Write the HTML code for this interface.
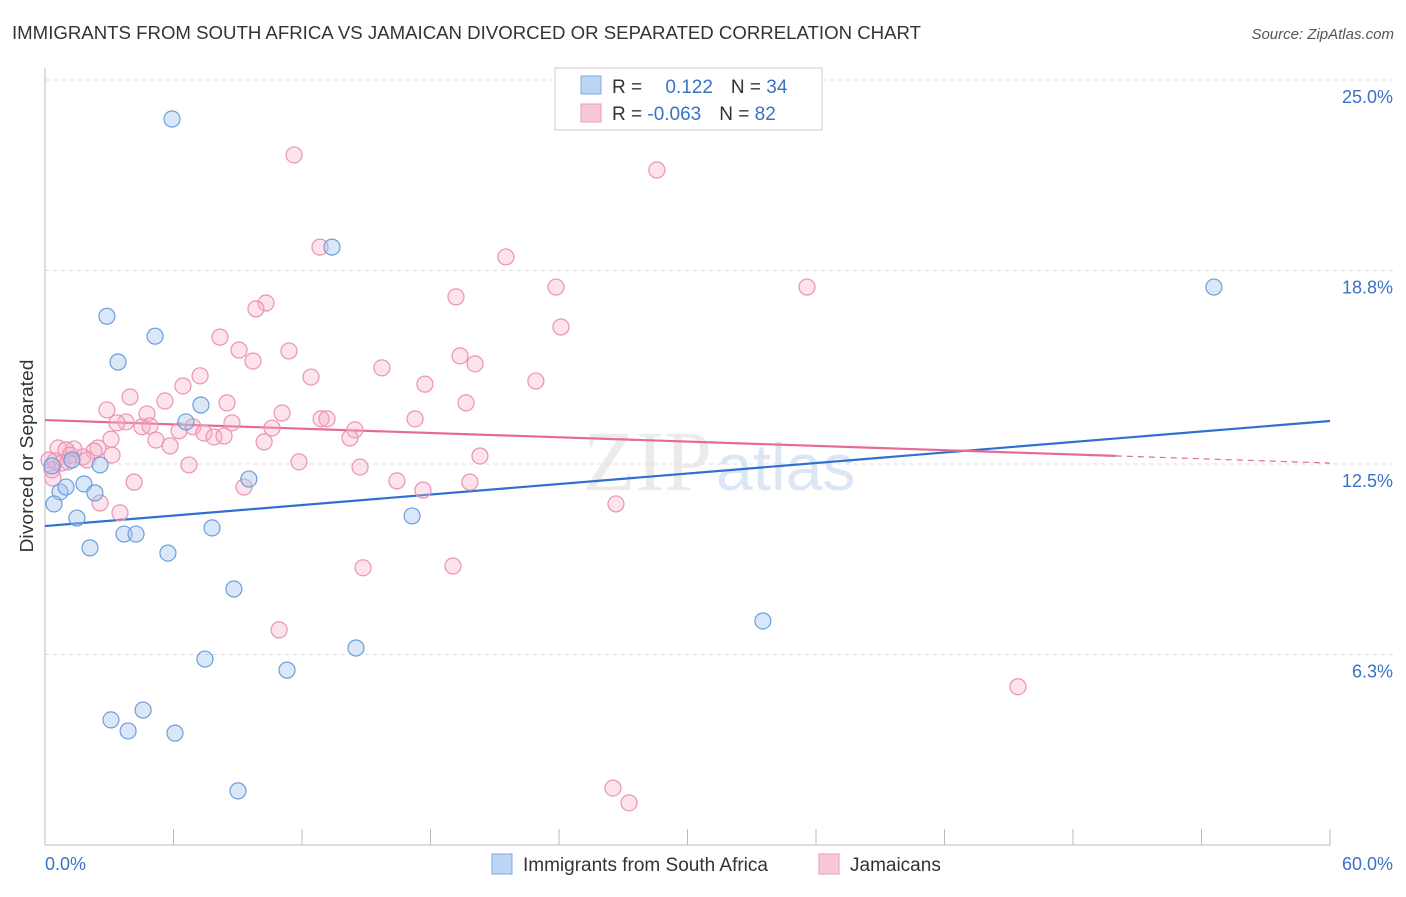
<!DOCTYPE html>
<html><head><meta charset="utf-8"><style>
body{margin:0;background:#fff;font-family:"Liberation Sans",sans-serif;}
</style></head><body>
<svg id="chart" width="1406" height="892" xmlns="http://www.w3.org/2000/svg" font-family="Liberation Sans, sans-serif">
<text x="12" y="39" font-size="18" fill="#333" textLength="909" lengthAdjust="spacingAndGlyphs">IMMIGRANTS FROM SOUTH AFRICA VS JAMAICAN DIVORCED OR SEPARATED CORRELATION CHART</text>
<text x="1394" y="39" font-size="15" fill="#555" font-style="italic" text-anchor="end">Source: ZipAtlas.com</text>
<g><text x="712" y="490" font-size="86" text-anchor="end" fill="#ebebeb" font-family="Liberation Serif, serif">ZIP</text><text x="716" y="490" font-size="66" fill="#dbe7f5">atlas</text></g>
<text transform="translate(33,456) rotate(-90)" font-size="18" fill="#333" text-anchor="middle" textLength="193" lengthAdjust="spacingAndGlyphs">Divorced or Separated</text>
<g id="grid"></g><g id="axes"></g><g id="lines"></g><g id="pts"></g>
<g>
<rect x="555" y="68" width="267" height="62" fill="#fff" stroke="#ccc"/>
<rect x="581" y="76" width="20" height="18" fill="#bdd5f5" stroke="#7fa9de"/>
<rect x="581" y="104" width="20" height="18" fill="#f9c8d8" stroke="#eb9ab6"/>
<text x="612" y="93" font-size="19" fill="#333">R = <tspan fill="#3a72c8" dx="18">0.122</tspan><tspan dx="18" fill="#333">N = </tspan><tspan fill="#3a72c8">34</tspan></text>
<text x="612" y="120" font-size="19" fill="#333">R = <tspan fill="#3a72c8">-0.063</tspan><tspan dx="18" fill="#333">N = </tspan><tspan fill="#3a72c8">82</tspan></text>
</g>
<g>
<rect x="492" y="854" width="20" height="20" fill="#bdd5f5" stroke="#7fa9de"/>
<text x="523" y="871" font-size="19" fill="#333">Immigrants from South Africa</text>
<rect x="819" y="854" width="20" height="20" fill="#f9c8d8" stroke="#eb9ab6"/>
<text x="850" y="871" font-size="19" fill="#333">Jamaicans</text>
</g>
</svg>
<script>
const blueX=[5.93,13.40,54.58,2.89,5.14,3.41,7.28,6.58,0.33,1.26,2.57,9.52,0.70,0.98,1.82,2.33,0.42,1.49,7.80,17.14,3.69,4.25,2.10,5.74,8.82,33.52,14.52,7.47,11.30,4.58,3.08,3.88,6.07,9.01];
const blueY=[23.73,19.56,18.26,17.31,16.66,15.82,14.42,13.87,12.44,12.63,12.47,12.01,11.59,11.75,11.85,11.56,11.20,10.74,10.42,10.81,10.22,10.22,9.77,9.60,8.43,7.39,6.51,6.15,5.79,4.49,4.17,3.81,3.74,1.86];
const pinkX=[11.63,28.57,12.84,21.52,23.86,35.58,19.19,10.32,9.85,24.09,8.17,11.39,9.06,9.71,19.38,20.08,15.73,7.24,12.42,22.92,6.44,17.74,3.97,5.60,19.66,8.50,2.89,4.76,11.07,3.78,3.36,17.28,12.89,13.17,8.73,4.53,4.90,6.91,6.26,10.60,14.47,7.42,7.89,8.36,3.08,5.18,14.24,5.84,10.23,2.47,1.35,0.61,0.98,2.29,1.77,0.19,0.47,1.96,0.79,6.72,11.86,20.31,14.71,0.37,4.16,16.43,19.84,9.29,17.65,2.57,26.66,3.50,14.85,19.05,10.93,45.43,26.52,27.27,0.33,1.17,1.07,3.13];
const pinkY=[22.56,22.07,19.56,19.24,18.26,18.26,17.94,17.74,17.55,16.96,16.63,16.18,16.21,15.85,16.02,15.76,15.63,15.37,15.33,15.20,15.04,15.10,14.68,14.55,14.49,14.49,14.26,14.13,14.16,13.87,13.84,13.97,13.97,13.97,13.84,13.71,13.74,13.71,13.58,13.67,13.61,13.51,13.38,13.41,13.31,13.28,13.35,13.09,13.22,13.02,12.99,13.02,12.96,12.92,12.73,12.63,12.60,12.63,12.53,12.47,12.57,12.76,12.40,12.04,11.91,11.95,11.91,11.75,11.65,11.23,11.20,10.91,9.12,9.18,7.10,5.25,1.95,1.47,12.31,12.79,12.57,12.79];
const yTicks=[25.0,18.8,12.5,6.3];
const yTickLabels=["25.0%","18.8%","12.5%","6.3%"];
const xTickLabels=["0.0%","60.0%"];
const blueTrend=[10.48,13.90];
const pinkTrend=[13.93,12.53];
const pinkSolidEnd=50;
const NS="http://www.w3.org/2000/svg";
const X=v=>45+v/60*1285;
const Y=v=>80+(25-v)*30.72;
function mk(tag,attrs,parent){const e=document.createElementNS(NS,tag);for(const k in attrs)e.setAttribute(k,attrs[k]);document.getElementById(parent).appendChild(e);return e;}
yTicks.forEach((t,i)=>{
 const g=mk('line',{x1:45,x2:1393,y1:Y(t),y2:Y(t),stroke:'#ddd','stroke-dasharray':'4,4'},'grid');
 
 
 const l=mk('text',{x:1393,y:Y(t)+23,'font-size':18,fill:'#3a72c8','text-anchor':'end'},'grid');
 l.textContent=yTickLabels[i];
 
 
});
const ya=mk('line',{x1:45,x2:45,y1:68,y2:845,stroke:'#bbb'},'axes');


const xa=mk('line',{x1:45,x2:1330,y1:845,y2:845,stroke:'#bbb'},'axes');


for(let i=0;i<=10;i++){const t=mk('line',{x1:X(i*6),x2:X(i*6),y1:829,y2:845,stroke:'#bbb'},'axes');
 
 }
[[0,'start',45],[60,'end',1393]].forEach((a,i)=>{const t=mk('text',{x:a[2],y:870,'font-size':18,fill:'#3a72c8','text-anchor':a[1]},'axes');t.textContent=xTickLabels[i];
 
 });
const bl=mk('line',{x1:X(0),y1:Y(blueTrend[0]),x2:X(60),y2:Y(blueTrend[1]),stroke:'#2f6fd0','stroke-width':2.2},'lines');


const py=x=>pinkTrend[0]+(pinkTrend[1]-pinkTrend[0])*x/60;
const pl=mk('line',{x1:X(0),y1:Y(pinkTrend[0]),x2:X(pinkSolidEnd),y2:Y(py(pinkSolidEnd)),stroke:'#e56b95','stroke-width':2.2},'lines');


const pd=mk('line',{x1:X(pinkSolidEnd),y1:Y(py(pinkSolidEnd)),x2:X(60),y2:Y(pinkTrend[1]),stroke:'#e56b95','stroke-width':1.2,'stroke-dasharray':'6,5'},'lines');


pinkX.forEach((x,i)=>{const c=mk('circle',{cx:X(x),cy:Y(pinkY[i]),r:8,fill:'rgba(245,175,200,0.35)',stroke:'#eb93b3','stroke-width':1.2},'pts');
 
 });
blueX.forEach((x,i)=>{const c=mk('circle',{cx:X(x),cy:Y(blueY[i]),r:8,fill:'rgba(160,196,240,0.4)',stroke:'#6a9fdc','stroke-width':1.2},'pts');
 
 });
</script>
</body></html>
